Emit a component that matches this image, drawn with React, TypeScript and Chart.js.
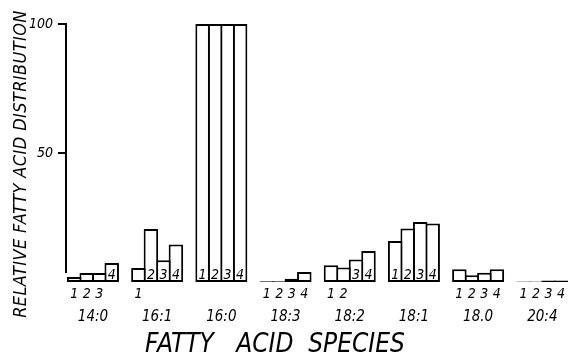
import React, { useEffect, useRef } from "react";
import { Chart, registerables } from "chart.js";

Chart.register(...registerables);

const categories = ["14:0", "16:1", "16:0", "18:3", "18:2", "18:1", "18.0", "20:4"];
const seriesNames = ["1", "2", "3", "4"];
const series1 = [1.9, 5.4, 100, 0.3, 6.5, 15.9, 4.9, 0.2];
const series2 = [3.5, 20.5, 100, 0.3, 5.6, 20.7, 2.6, 0.2];
const series3 = [3.5, 8.4, 100, 1.3, 8.7, 23.3, 3.6, 0.6];
const series4 = [7.4, 14.5, 100, 3.9, 12.0, 22.7, 4.9, 0.6];
const yTicks = [50, 100];
const yTitle = "RELATIVE FATTY ACID DISTRIBUTION";
const xTitle = "FATTY   ACID  SPECIES";

const FONT = "'Liberation Sans Narrow', 'DejaVu Sans Condensed', 'DejaVu Sans', sans-serif";

const decorPlugin = {
  id: "decor",
  afterDatasetsDraw(chart: any) {
    const ctx = chart.ctx;
    const y = chart.scales.y;
    const base = y.getPixelForValue(0);
    ctx.save();
    // y axis line
    ctx.strokeStyle = "#000";
    ctx.lineWidth = 2;
    ctx.beginPath();
    ctx.moveTo(y.right, y.getPixelForValue(100) - 1);
    ctx.lineTo(y.right, y.getPixelForValue(3.5));
    ctx.stroke();
    // bar numbers
    ctx.fillStyle = "#000";
    ctx.font = "italic 14px " + FONT;
    ctx.textAlign = "center";
    ctx.textBaseline = "middle";
    chart.data.datasets.forEach((ds: any, di: number) => {
      const meta = chart.getDatasetMeta(di);
      meta.data.forEach((bar: any) => {
        const h = base - bar.y;
        if (h >= 17) ctx.fillText(ds.label, bar.x, base - 7);
        else ctx.fillText(ds.label, bar.x, base + 12);
      });
    });
    // titles
    ctx.font = "italic 18px " + FONT;
    ctx.save();
    ctx.translate(21.5, 164);
    ctx.rotate(-Math.PI / 2);
    ctx.textAlign = "center";
    ctx.textBaseline = "middle";
    (ctx as any).letterSpacing = "0.4px";
    ctx.fillText(yTitle, 0, 0);
    ctx.restore();
    ctx.font = "italic 26px " + FONT;
    ctx.textAlign = "left";
    ctx.textBaseline = "alphabetic";
    ctx.fillText(xTitle, 145, 352);
    ctx.restore();
  },
};

export default function App() {
  const ref = useRef<HTMLCanvasElement>(null);
  useEffect(() => {
    if (!ref.current) return;
    const all = [series1, series2, series3, series4];
    const chart = new Chart(ref.current, {
      type: "bar",
      data: {
        datasets: all.map((s, si) => ({
          label: seriesNames[si],
          data: s.map((v, i) => ({ x: i, y: v })),
          backgroundColor: "#fff",
          borderColor: "#000",
          borderWidth: 2,
          borderSkipped: false,
          barPercentage: 1.16,
          categoryPercentage: 0.779,
        })),
      },
      options: {
        responsive: false,
        animation: false,
        layout: { padding: { top: 24, left: 0, right: 0, bottom: 0 } },
        plugins: { legend: { display: false }, tooltip: { enabled: false } },
        scales: {
          x: {
            type: "linear",
            offset: false,
            min: -0.42,
            max: 7.4,
            afterBuildTicks: (s: any) => {
              s.ticks = categories.map((_, i) => ({ value: i }));
            },
            afterFit: (s: any) => {
              s.height = 72;
              s.paddingLeft = 0;
              s.paddingRight = 0;
            },
            ticks: {
              callback: (v: any) => categories[v],
              color: "#000",
              font: { family: FONT, style: "italic", size: 15 },
              padding: 26,
              maxRotation: 0,
              autoSkip: false,
            },
            grid: { display: false, drawTicks: false, offset: false },
            border: { display: false },
          },
          y: {
            min: 0,
            max: 100,
            afterBuildTicks: (s: any) => {
              s.ticks = yTicks.map((v) => ({ value: v }));
            },
            afterFit: (s: any) => {
              s.width = 66;
            },
            ticks: {
              color: "#000",
              font: { family: FONT, style: "italic", size: 14 },
              padding: 5,
            },
            grid: {
              drawOnChartArea: false,
              drawTicks: true,
              tickLength: 8,
              color: "#000",
              lineWidth: 2,
            },
            border: { display: false },
          },
        },
      },
      plugins: [decorPlugin],
    });
    return () => chart.destroy();
  }, []);
  return (
    <div style={{ position: "fixed", left: 0, top: 0, width: 568, height: 354, background: "#fff" }}>
      <canvas ref={ref} width={568} height={354} />
    </div>
  );
}
